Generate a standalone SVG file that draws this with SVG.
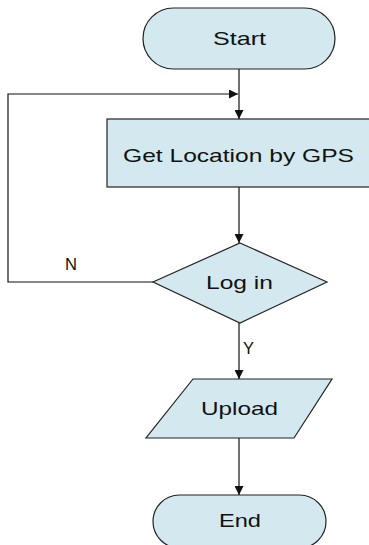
<svg xmlns="http://www.w3.org/2000/svg" width="369" height="545" viewBox="0 0 369 545">
  <style>
    .shape { fill: #d3e9ef; stroke: #222; stroke-width: 1.2; }
    .lbl { font-family: "Liberation Sans", Arial, sans-serif; font-size: 19px; fill: #111; text-anchor: middle; }
    .edge { font-family: "Liberation Sans", Arial, sans-serif; font-size: 16px; fill: #111; }
    .conn { fill: none; stroke: #111; stroke-width: 1.2; }
  </style>
  <defs>
    <marker id="arrow" viewBox="0 0 10 10" refX="10" refY="5" markerWidth="9" markerHeight="9" markerUnits="userSpaceOnUse" orient="auto">
      <path d="M0,0 L10,5 L0,10 Z" fill="#111"/>
    </marker>
  </defs>
  <rect width="369" height="545" fill="#fff"/>
  <g id="connectors">
    <line class="conn" x1="239" y1="69" x2="239" y2="119" marker-end="url(#arrow)"/>
    <polyline class="conn" points="153,282 8,282 8,94 238,94" marker-end="url(#arrow)"/>
    <line class="conn" x1="239" y1="187" x2="239" y2="243" marker-end="url(#arrow)"/>
    <line class="conn" x1="239" y1="323" x2="239" y2="379" marker-end="url(#arrow)"/>
    <line class="conn" x1="239" y1="438" x2="239" y2="495" marker-end="url(#arrow)"/>
    <text class="edge" x="65" y="270" textLength="12" lengthAdjust="spacingAndGlyphs">N</text>
    <text class="edge" x="243" y="354" textLength="11" lengthAdjust="spacingAndGlyphs">Y</text>
  </g>
  <g id="start">
    <rect class="shape" x="143" y="8" width="192" height="61" rx="30.5" ry="30.5"/>
    <text class="lbl" x="239.5" y="45" textLength="53" lengthAdjust="spacingAndGlyphs">Start</text>
  </g>
  <g id="get-location">
    <rect class="shape" x="107" y="119" width="263" height="68"/>
    <text class="lbl" x="238.5" y="162" textLength="231" lengthAdjust="spacingAndGlyphs">Get Location by GPS</text>
  </g>
  <g id="login">
    <polygon class="shape" points="240,243 327,282 240,323 153,282"/>
    <text class="lbl" x="239.5" y="289" textLength="67" lengthAdjust="spacingAndGlyphs">Log in</text>
  </g>
  <g id="upload">
    <polygon class="shape" points="193,379 332,379 294,438 146,438"/>
    <text class="lbl" x="239.5" y="415" textLength="77" lengthAdjust="spacingAndGlyphs">Upload</text>
  </g>
  <g id="end">
    <rect class="shape" x="153" y="495" width="173" height="53" rx="26.5" ry="26.5"/>
    <text class="lbl" x="240" y="527" textLength="42" lengthAdjust="spacingAndGlyphs">End</text>
  </g>
</svg>
